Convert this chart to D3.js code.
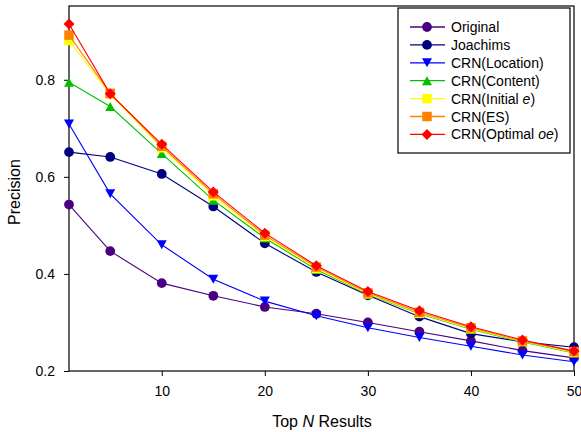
<!DOCTYPE html>
<html lang="en">
<head>
<meta charset="UTF-8">
<title>Precision at Top N</title>
<style>
body {
    margin: 0;
    background-color: #fff;
    font-family: Arial, "Liberation Sans", sans-serif;
}
</style>
</head>
<body>
<div id="plot"></div>
<script src="https://cdn.jsdelivr.net/npm/d3@7"></script>
<script>

const w = 581,
      h = 432;

// data
const topN = [1, 5, 10, 15, 20, 25, 30, 35, 40, 45, 50];
const original   = [0.543, 0.447, 0.381, 0.355, 0.332, 0.318, 0.300, 0.281, 0.262, 0.242, 0.227];
const joachims   = [0.651, 0.641, 0.606, 0.539, 0.463, 0.404, 0.356, 0.312, 0.277, 0.260, 0.249];
const crnLoc     = [0.709, 0.565, 0.460, 0.389, 0.344, 0.314, 0.289, 0.269, 0.251, 0.233, 0.219];
const crnContent = [0.795, 0.745, 0.648, 0.552, 0.474, 0.409, 0.358, 0.318, 0.286, 0.260, 0.237];
const crnInitE   = [0.881, 0.770, 0.660, 0.561, 0.477, 0.411, 0.359, 0.319, 0.287, 0.261, 0.238];
const crnES      = [0.892, 0.772, 0.663, 0.565, 0.480, 0.414, 0.361, 0.321, 0.289, 0.262, 0.240];
const crnOptOE   = [0.915, 0.771, 0.667, 0.569, 0.484, 0.417, 0.364, 0.324, 0.291, 0.264, 0.241];

const yTicks = [0.2, 0.4, 0.6, 0.8];
const xTicks = [10, 20, 30, 40, 50];

const series = [
    {name: "Original",        pre: "Original", it: "",   post: "",  values: original,   color: "#4b0082", shape: d3.symbolCircle},
    {name: "Joachims",        pre: "Joachims", it: "",   post: "",  values: joachims,   color: "#000080", shape: d3.symbolCircle},
    {name: "CRN(Location)",   pre: "CRN(Location)", it: "", post: "", values: crnLoc,   color: "#0000ff", shape: "down"},
    {name: "CRN(Content)",    pre: "CRN(Content)", it: "", post: "", values: crnContent, color: "#00c000", shape: "up"},
    {name: "CRN(Initial e)",  pre: "CRN(Initial ", it: "e", post: ")", values: crnInitE, color: "#ffff00", shape: d3.symbolSquare},
    {name: "CRN(ES)",         pre: "CRN(ES)", it: "", post: "",  values: crnES,      color: "#ff8000", shape: d3.symbolSquare},
    {name: "CRN(Optimal oe)", pre: "CRN(Optimal ", it: "oe", post: ")", values: crnOptOE, color: "#ff0000", shape: "diamond"}
];

const margin = {top: 6, right: 7, bottom: 61, left: 69};

const svg = d3.select("#plot").append("svg")
    .attr("width", w)
    .attr("height", h);

const x = d3.scaleLinear().domain([1, 50]).range([margin.left, w - margin.right]);
const y = d3.scaleLinear().domain([0.2, 0.952]).range([h - margin.bottom, margin.top]);

// marker path for each shape
function marker(shape) {
    if (shape === "down") return "M-5,-4.5L5,-4.5L0,4.5Z";
    if (shape === "up") return "M-5,4.5L5,4.5L0,-4.5Z";
    if (shape === "diamond") return "M0,-5.5L5.5,0L0,5.5L-5.5,0Z";
    if (shape === d3.symbolSquare) return d3.symbol().type(shape).size(90)();
    return d3.symbol().type(shape).size(75)();
}

// axes
svg.append("g")
    .attr("transform", `translate(0,${h - margin.bottom})`)
    .call(d3.axisBottom(x).tickValues(xTicks).tickSize(5).tickPadding(10).tickFormat(d3.format("d")))
    .call(g => g.select(".domain").remove())
    .selectAll("text").attr("font-size", 14).attr("font-family", "Arial, 'Liberation Sans', sans-serif").attr("fill", "#000");

svg.append("g")
    .attr("transform", `translate(${margin.left},0)`)
    .call(d3.axisLeft(y).tickValues(yTicks).tickSize(5).tickPadding(9).tickFormat(d3.format(".1f")))
    .call(g => g.select(".domain").remove())
    .selectAll("text").attr("font-size", 14).attr("font-family", "Arial, 'Liberation Sans', sans-serif").attr("fill", "#000");

// frame
svg.append("rect")
    .attr("x", margin.left)
    .attr("y", margin.top)
    .attr("width", w - margin.right - margin.left)
    .attr("height", h - margin.bottom - margin.top)
    .attr("fill", "none")
    .attr("stroke", "#000")
    .attr("stroke-width", 1.2);

// axis titles
svg.append("text")
    .attr("transform", `translate(20,192) rotate(-90)`)
    .attr("text-anchor", "middle")
    .attr("font-size", 16)
    .text("Precision");

const xt = svg.append("text")
    .attr("x", 322)
    .attr("y", 427)
    .attr("text-anchor", "middle")
    .attr("font-size", 16);
xt.append("tspan").text("Top ");
xt.append("tspan").attr("font-style", "italic").text("N");
xt.append("tspan").text(" Results");

// lines + markers
const line = d3.line()
    .x((d, i) => x(topN[i]))
    .y(d => y(d));

series.forEach(s => {
    svg.append("path")
        .datum(s.values)
        .attr("d", line)
        .attr("fill", "none")
        .attr("stroke", s.color)
        .attr("stroke-width", 1.1);

    svg.selectAll(null)
        .data(s.values)
        .join("path")
        .attr("transform", (d, i) => `translate(${x(topN[i])},${y(d)})`)
        .attr("d", marker(s.shape))
        .attr("fill", s.color);
});

// legend
const lg = svg.append("g").attr("transform", "translate(398,8)");
lg.append("rect")
    .attr("width", 172)
    .attr("height", 145)
    .attr("fill", "#fff")
    .attr("stroke", "#000")
    .attr("stroke-width", 1.2);

series.forEach((s, i) => {
    const row = lg.append("g").attr("transform", `translate(0,${19 + i * 17.9})`);
    row.append("line")
        .attr("x1", 12).attr("x2", 47)
        .attr("stroke", s.color)
        .attr("stroke-width", 1.3);
    row.append("path")
        .attr("transform", "translate(29,0)")
        .attr("d", marker(s.shape))
        .attr("fill", s.color);
    const t = row.append("text")
        .attr("x", 53)
        .attr("y", 5)
        .attr("font-size", 14);
    t.append("tspan").text(s.pre);
    if (s.it) {
        t.append("tspan").attr("font-style", "italic").text(s.it);
        t.append("tspan").text(s.post);
    }
});
</script>
</body>
</html>
